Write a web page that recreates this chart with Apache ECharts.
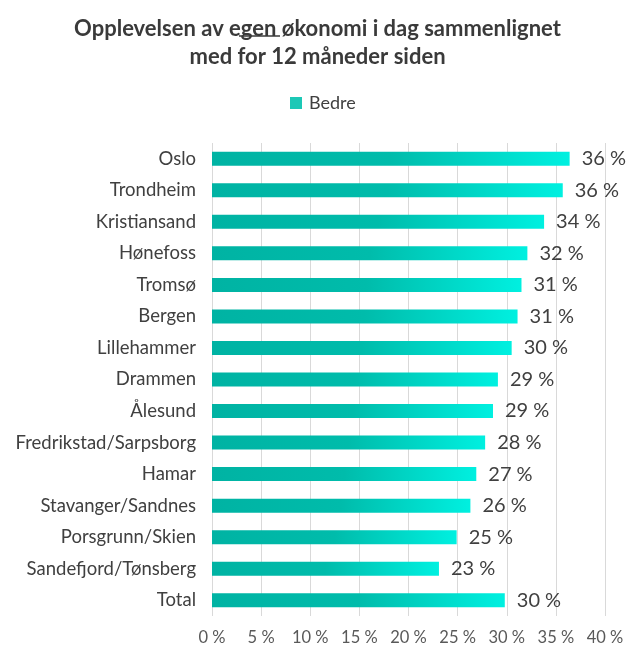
<!DOCTYPE html>
<html><head><meta charset="utf-8">
<script src="https://cdn.jsdelivr.net/npm/echarts@6/dist/echarts.min.js"></script>
<style>html,body{margin:0;padding:0;background:#fff}#c{width:635px;height:659px}</style>
</head><body><div id="c"></div>
<script>
const categories = ["Oslo","Trondheim","Kristiansand","Hønefoss","Tromsø","Bergen","Lillehammer","Drammen","Ålesund","Fredrikstad/Sarpsborg","Hamar","Stavanger/Sandnes","Porsgrunn/Skien","Sandefjord/Tønsberg","Total"];
const values = [36.4, 35.7, 33.8, 32.1, 31.5, 31.1, 30.5, 29.1, 28.6, 27.8, 26.9, 26.3, 24.9, 23.1, 29.8];
const labels = ["36 %","36 %","34 %","32 %","31 %","31 %","30 %","29 %","29 %","28 %","27 %","26 %","25 %","23 %","30 %"];
const seriesName = "Bedre";
const font = "Lato, 'Open Sans', sans-serif";
const chart = echarts.init(document.getElementById('c'));
chart.setOption({
  animation: false,
  title: {
    text: "Opplevelsen av egen økonomi i dag sammenlignet\nmed for 12 måneder siden",
    left: 'center', top: 10,
    textStyle: {fontFamily: font, fontSize: 22, fontWeight: 'bold', color: '#3a3a3a', lineHeight: 28}
  },
  legend: {
    top: 89, left: 285, itemWidth: 12, itemHeight: 12, itemGap: 6,
    icon: 'rect',
    itemStyle: {color: '#1cc8b6'},
    textStyle: {fontFamily: font, fontSize: 18, color: '#404040', padding: [0, 0, 0, 2]},
    data: [seriesName]
  },
  graphic: [{type: 'line', shape: {x1: 239, y1: 36, x2: 280, y2: 36}, style: {stroke: '#3a3a3a', lineWidth: 1.4}}],
  grid: {left: 212, right: 30, top: 143, bottom: 43, containLabel: false},
  xAxis: {
    type: 'value', min: 0, max: 40, interval: 5,
    axisLabel: {formatter: v => v + ' %', fontFamily: font, fontSize: 16.5, color: '#595959', margin: 13},
    splitLine: {lineStyle: {color: '#d9d9d9'}},
    axisLine: {show: false}, axisTick: {show: false}
  },
  yAxis: {
    type: 'category', inverse: true, data: categories,
    axisLabel: {fontFamily: font, fontSize: 18.5, color: '#404040', margin: 16},
    axisLine: {show: false}, axisTick: {show: false}
  },
  series: [{
    name: seriesName, type: 'bar', data: values, barWidth: 14,
    itemStyle: {color: new echarts.graphic.LinearGradient(0, 0, 1, 0, [
      {offset: 0, color: '#00b3a3'}, {offset: 0.5, color: '#00bcab'}, {offset: 1, color: '#00f0e0'}
    ])},
    label: {show: true, position: 'right', distance: 12, formatter: p => labels[p.dataIndex],
      fontFamily: font, fontSize: 20, color: '#404040'}
  }],
  color: ['#1cc7b6']
});
</script></body></html>
